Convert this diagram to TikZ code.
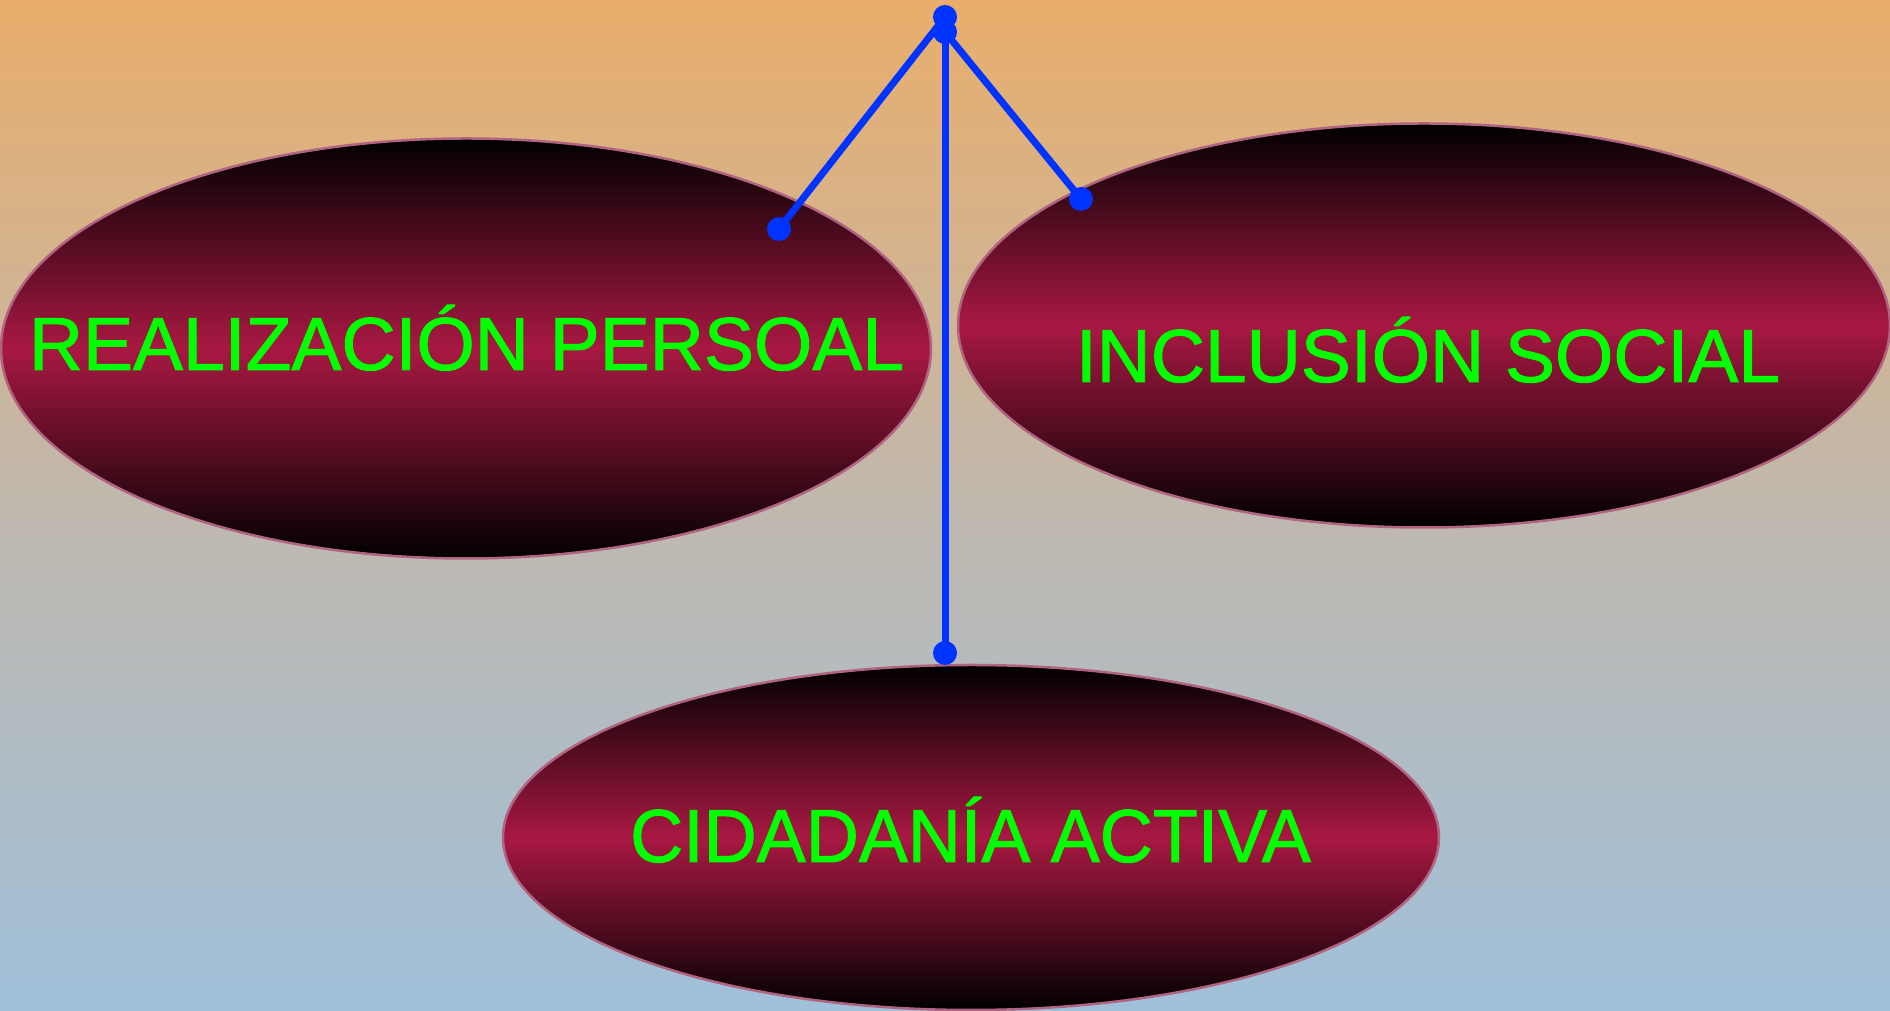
\documentclass[tikz,border=0pt]{standalone}
\usepackage{fontspec}
\setmainfont{Liberation Sans}
\newfontfamily\thickfont[FakeBold=1.3]{Liberation Sans}
\usetikzlibrary{shapes.geometric}
\definecolor{bgtop}{RGB}{233,174,107}
\definecolor{bgmid}{RGB}{192,184,174}
\definecolor{bgbot}{RGB}{160,192,218}
\definecolor{wine}{RGB}{168,24,66}
\definecolor{rim}{RGB}{176,100,130}
\definecolor{linkblue}{RGB}{0,51,255}
\definecolor{lime}{RGB}{0,255,0}
\begin{document}
\begin{tikzpicture}[x=1pt,y=1pt,
  oval/.style={ellipse, inner sep=0, draw=rim, line width=2.5pt, top color=black, bottom color=black, middle color=wine},
  dot/.style={circle, fill=linkblue, inner sep=0, minimum size=24pt},
  link/.style={draw=linkblue, line width=7pt},
  lbl/.style={text=lime, font=\thickfont\fontsize{75}{80}\selectfont, anchor=base, inner sep=0}]
\useasboundingbox (0,0) rectangle (1890,1011);
\shade[top color=bgtop, bottom color=bgbot, middle color=bgmid] (0,0) rectangle (1890,1011);
\node[oval, minimum width=930pt, minimum height=420pt] (realiz) at (466,662.5){};
\node[oval, minimum width=932pt, minimum height=404pt] (inclus) at (1424,685.5){};
\node[oval, minimum width=936pt, minimum height=345pt] (cidad) at (971,173.5){};
\node[lbl] (realizT) at (466.5,641){REALIZACIÓN PERSOAL};
\node[lbl] (inclusT) at (1428,629){INCLUSIÓN SOCIAL};
\node[lbl, xscale=0.98] (cidadT) at (970.5,149){CIDADANÍA ACTIVA};
\node[dot] (hub0) at (945,994){};
\node[dot] (hub1) at (945,979){};
\node[dot] (endL) at (779,782){};
\node[dot] (endR) at (1081,812){};
\node[dot] (endB) at (945,358){};
\draw[link] (hub0.center) -- (endL.center);
\draw[link] (hub1.center) -- (endR.center);
\draw[link] (hub1.center) -- (endB.center);
\end{tikzpicture}
\end{document}
